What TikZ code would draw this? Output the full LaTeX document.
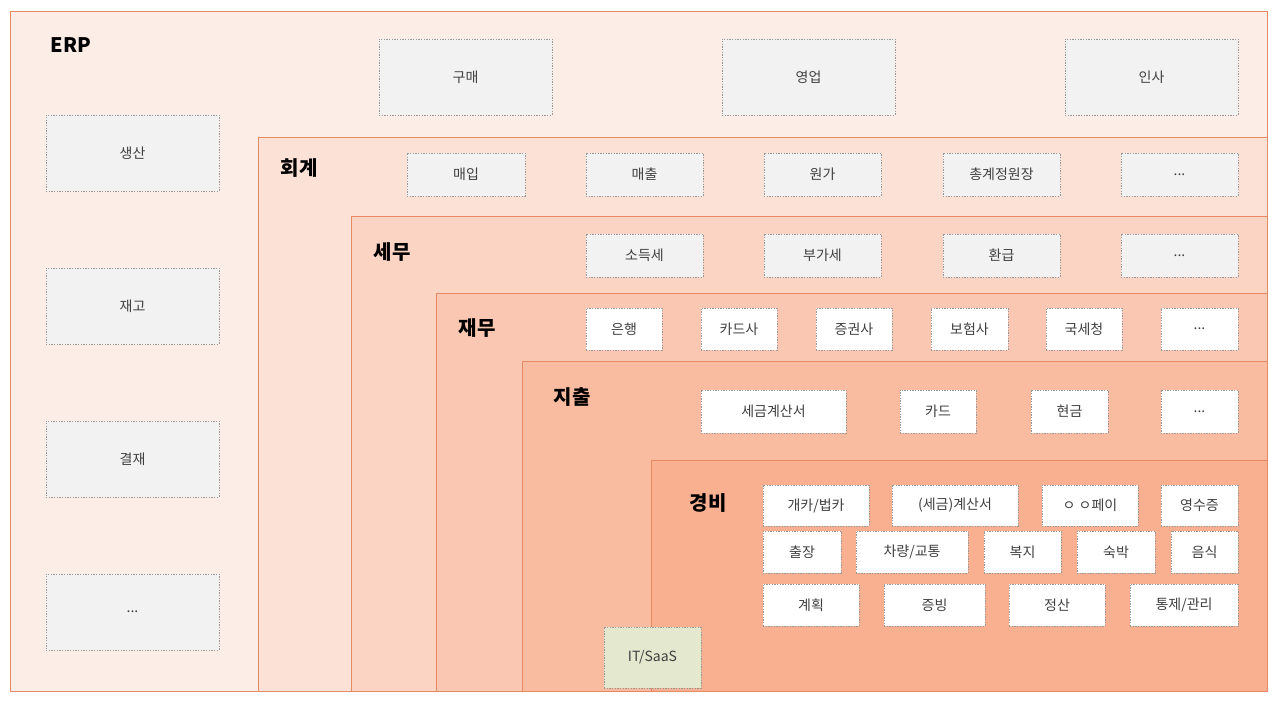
\documentclass[tikz,border=0pt]{standalone}
\usepackage{fontspec}
\setmainfont{Noto Sans CJK KR}
\definecolor{bord}{HTML}{E58A62}
\definecolor{c0}{HTML}{FDEDE7}
\definecolor{c1}{HTML}{FCE1D6}
\definecolor{c2}{HTML}{FBD4C4}
\definecolor{c3}{HTML}{FAC8B2}
\definecolor{c4}{HTML}{F9BCA1}
\definecolor{c5}{HTML}{F8B091}
\definecolor{gbox}{HTML}{F2F2F2}
\definecolor{itbox}{HTML}{E3E8CE}
\definecolor{txt}{HTML}{404040}
\newcommand\mybox[7]{\node[bx,fill=#6,minimum width={(#3-#2)*0.75pt},minimum height={(#5-#4)*0.75pt}] (#7) at ({(#2+#3)/2},{(#4+#5)/2}) {#1};}
\begin{document}
\begin{tikzpicture}[x=0.75pt,y=-0.75pt,
 bx/.style={draw=gray!80,dash pattern=on 1pt off 1pt,inner sep=0pt,font=\fontsize{10.5pt}{12pt}\selectfont,text=txt},
 lvl/.style={draw=bord,line width=0.6pt},
 ttl/.style={anchor=west,font=\fontsize{15pt}{18pt}\selectfont\bfseries}]
\useasboundingbox (0,0) rectangle (1280,705);
\fill[white] (0,0) rectangle (1280,705);
\draw[lvl,fill=c0] (10,11) rectangle (1267,691);
\draw[lvl,fill=c1] (258,137) rectangle (1267,691);
\draw[lvl,fill=c2] (351,216) rectangle (1267,691);
\draw[lvl,fill=c3] (436,293) rectangle (1267,691);
\draw[lvl,fill=c4] (522,361) rectangle (1267,691);
\draw[lvl,fill=c5] (651,460) rectangle (1267,691);
\node[ttl] (terp) at (46,45) {ERP};
\node[ttl] (t1) at (276,168) {회계};
\node[ttl] (t2) at (369,252) {세무};
\node[ttl] (t3) at (454,328) {재무};
\node[ttl] (t4) at (549,397) {지출};
\node[ttl] (t5) at (685,503) {경비};
\mybox{구매}{379}{552}{39}{115}{gbox}{a1}
\mybox{영업}{722}{895}{39}{115}{gbox}{a2}
\mybox{인사}{1065}{1238}{39}{115}{gbox}{a3}
\mybox{생산}{46}{219}{115}{191}{gbox}{l1}
\mybox{재고}{46}{219}{268}{344}{gbox}{l2}
\mybox{결재}{46}{219}{421}{497}{gbox}{l3}
\mybox{...}{46}{219}{574}{650}{gbox}{l4}
\mybox{매입}{407}{525}{153}{196}{gbox}{b1}
\mybox{매출}{586}{703}{153}{196}{gbox}{b2}
\mybox{원가}{764}{881}{153}{196}{gbox}{b3}
\mybox{총계정원장}{943}{1060}{153}{196}{gbox}{b4}
\mybox{...}{1121}{1238}{153}{196}{gbox}{b5}
\mybox{소득세}{586}{703}{234}{277}{gbox}{c1}
\mybox{부가세}{764}{881}{234}{277}{gbox}{c2}
\mybox{환급}{943}{1060}{234}{277}{gbox}{c3}
\mybox{...}{1121}{1238}{234}{277}{gbox}{c4}
\mybox{은행}{586}{662}{308}{350}{white}{d1}
\mybox{카드사}{701}{777}{308}{350}{white}{d2}
\mybox{증권사}{816}{892}{308}{350}{white}{d3}
\mybox{보험사}{931}{1008}{308}{350}{white}{d4}
\mybox{국세청}{1046}{1122}{308}{350}{white}{d5}
\mybox{...}{1161}{1238}{308}{350}{white}{d6}
\mybox{세금계산서}{701}{846}{390}{433}{white}{e1}
\mybox{카드}{900}{976}{390}{433}{white}{e2}
\mybox{현금}{1031}{1108}{390}{433}{white}{e3}
\mybox{...}{1161}{1238}{390}{433}{white}{e4}
\mybox{개카/법카}{763}{869}{485}{526}{white}{f1}
\mybox{(세금)계산서}{892}{1018}{485}{526}{white}{f2}
\mybox{ㅇ ㅇ페이}{1042}{1138}{485}{526}{white}{f3}
\mybox{영수증}{1161}{1238}{485}{526}{white}{f4}
\mybox{출장}{763}{841}{531}{573}{white}{g1}
\mybox{차량/교통}{856}{968}{531}{573}{white}{g2}
\mybox{복지}{984}{1061}{531}{573}{white}{g3}
\mybox{숙박}{1077}{1155}{531}{573}{white}{g4}
\mybox{음식}{1171}{1238}{531}{573}{white}{g5}
\mybox{계획}{763}{859}{584}{626}{white}{h1}
\mybox{증빙}{884}{985}{584}{626}{white}{h2}
\mybox{정산}{1009}{1105}{584}{626}{white}{h3}
\mybox{통제/관리}{1130}{1238}{584}{626}{white}{h4}
\mybox{IT/SaaS}{604}{701}{627}{688}{itbox}{it}
\end{tikzpicture}
\end{document}
